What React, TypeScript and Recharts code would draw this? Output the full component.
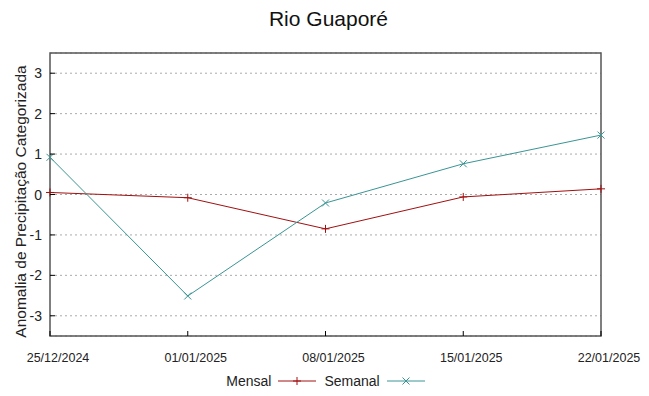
import { CartesianGrid, Line, LineChart, ReferenceArea, XAxis, YAxis } from "recharts";

const dates = ["25/12/2024", "01/01/2025", "08/01/2025", "15/01/2025", "22/01/2025"];
const mensal = [0.05, -0.08, -0.85, -0.06, 0.14];
const semanal = [0.92, -2.51, -0.21, 0.76, 1.47];
const yTicks = [-3, -2, -1, 0, 1, 2, 3];

const MENSAL_COLOR = "#a01010";
const SEMANAL_COLOR = "#3a9494";
const BORDER = "#555555";
const FONT = "'Liberation Sans', Arial, sans-serif";

const WIDTH = 641;
const HEIGHT = 388;
const X_AXIS_HEIGHT = 60;
const MARGIN = { top: 45, right: 48, bottom: 0, left: 0 };
const PLOT_LEFT = 42;
const PLOT_RIGHT = WIDTH - MARGIN.right;
const PLOT_BOTTOM = HEIGHT - X_AXIS_HEIGHT;

const chartData = dates.map((date, i) => ({ date, mensal: mensal[i], semanal: semanal[i] }));

function PlusDot({ cx, cy }: any) {
  if (cx == null || cy == null) return null;
  return <path d={`M${cx - 4},${cy}h8M${cx},${cy - 4}v8`} stroke={MENSAL_COLOR} strokeWidth={1} fill="none" />;
}

function CrossDot({ cx, cy }: any) {
  if (cx == null || cy == null) return null;
  return (
    <path
      d={`M${cx - 3.5},${cy - 3.5}l7,7M${cx + 3.5},${cy - 3.5}l-7,7`}
      stroke={SEMANAL_COLOR}
      strokeWidth={1}
      fill="none"
    />
  );
}

function LeftTick({ y, payload }: any) {
  return (
    <g>
      <line x1={PLOT_LEFT} x2={PLOT_LEFT + 5} y1={y} y2={y} stroke="#000" />
      <text x={PLOT_LEFT - 8} y={y} dy={5} textAnchor="end" fontSize={14} fill="#222" fontFamily={FONT}>
        {payload.value}
      </text>
    </g>
  );
}

function RightTick({ y }: any) {
  return <line x1={PLOT_RIGHT - 5} x2={PLOT_RIGHT} y1={y} y2={y} stroke="#000" />;
}

function BottomTick({ x, payload }: any) {
  return (
    <g>
      <line x1={x} x2={x} y1={PLOT_BOTTOM} y2={PLOT_BOTTOM - 5} stroke="#000" />
      <text x={x + 8} y={PLOT_BOTTOM + 26} textAnchor="middle" fontSize={12.5} fill="#222" fontFamily={FONT}>
        {payload.value}
      </text>
    </g>
  );
}

function YLabel({ viewBox }: any) {
  const cx = 12;
  const cy = viewBox.y + viewBox.height / 2 + 7;
  return (
    <text
      x={cx}
      y={cy}
      transform={`rotate(-90, ${cx}, ${cy})`}
      textAnchor="middle"
      dominantBaseline="central"
      fontSize={15.5}
      fill="#222"
      fontFamily={FONT}
    >
      Anomalia de Precipitação Categorizada
    </text>
  );
}

function KeyLegend() {
  const item = (label: string, color: string, marker: "plus" | "cross") => (
    <div style={{ display: "flex", alignItems: "center" }}>
      <span style={{ fontSize: 14, color: "#222" }}>{label}</span>
      <svg width={38} height={12} style={{ marginLeft: 7 }}>
        <line x1={0} x2={38} y1={6} y2={6} stroke={color} />
        {marker === "plus" ? (
          <path d="M15,6h8M19,2v8" stroke={color} />
        ) : (
          <path d="M15.5,2.5l7,7M22.5,2.5l-7,7" stroke={color} />
        )}
      </svg>
    </div>
  );
  return (
    <div
      style={{
        position: "absolute",
        top: 365,
        left: -3,
        width: WIDTH,
        display: "flex",
        justifyContent: "center",
        gap: 8,
        fontFamily: FONT,
      }}
    >
      {item("Mensal", MENSAL_COLOR, "plus")}
      {item("Semanal", SEMANAL_COLOR, "cross")}
    </div>
  );
}

export default function App() {
  return (
    <div style={{ position: "relative", width: WIDTH, height: HEIGHT, background: "#fff" }}>
      <div
        style={{
          position: "absolute",
          top: -1,
          left: 0,
          width: WIDTH,
          textAlign: "center",
          fontFamily: FONT,
          fontSize: 21,
          color: "#111",
        }}
      >
        Rio Guaporé
      </div>
      <LineChart width={WIDTH} height={HEIGHT} data={chartData} margin={MARGIN}>
        <CartesianGrid vertical={false} stroke="#aaaaaa" strokeDasharray="2 3" />
        <XAxis dataKey="date" axisLine={false} tickLine={false} interval={0} tick={<BottomTick />} height={X_AXIS_HEIGHT} />
        <YAxis
          domain={[-3.5, 3.5]}
          ticks={yTicks}
          allowDataOverflow
          width={PLOT_LEFT}
          axisLine={false}
          tickLine={false}
          tick={<LeftTick />}
          label={<YLabel />}
        />
        <YAxis
          yAxisId="right"
          orientation="right"
          domain={[-3.5, 3.5]}
          ticks={yTicks}
          width={0}
          axisLine={false}
          tickLine={false}
          tick={<RightTick />}
        />
        <ReferenceArea
          x1={dates[0]}
          x2={dates[dates.length - 1]}
          y1={-3.5}
          y2={3.5}
          fill="none"
          stroke={BORDER}
          strokeWidth={1.5}
          ifOverflow="visible"
        />
        <Line
          dataKey="mensal"
          stroke={MENSAL_COLOR}
          strokeWidth={1}
          dot={<PlusDot />}
          activeDot={false}
          isAnimationActive={false}
        />
        <Line
          dataKey="semanal"
          stroke={SEMANAL_COLOR}
          strokeWidth={1}
          dot={<CrossDot />}
          activeDot={false}
          isAnimationActive={false}
        />
      </LineChart>
      <KeyLegend />
    </div>
  );
}
